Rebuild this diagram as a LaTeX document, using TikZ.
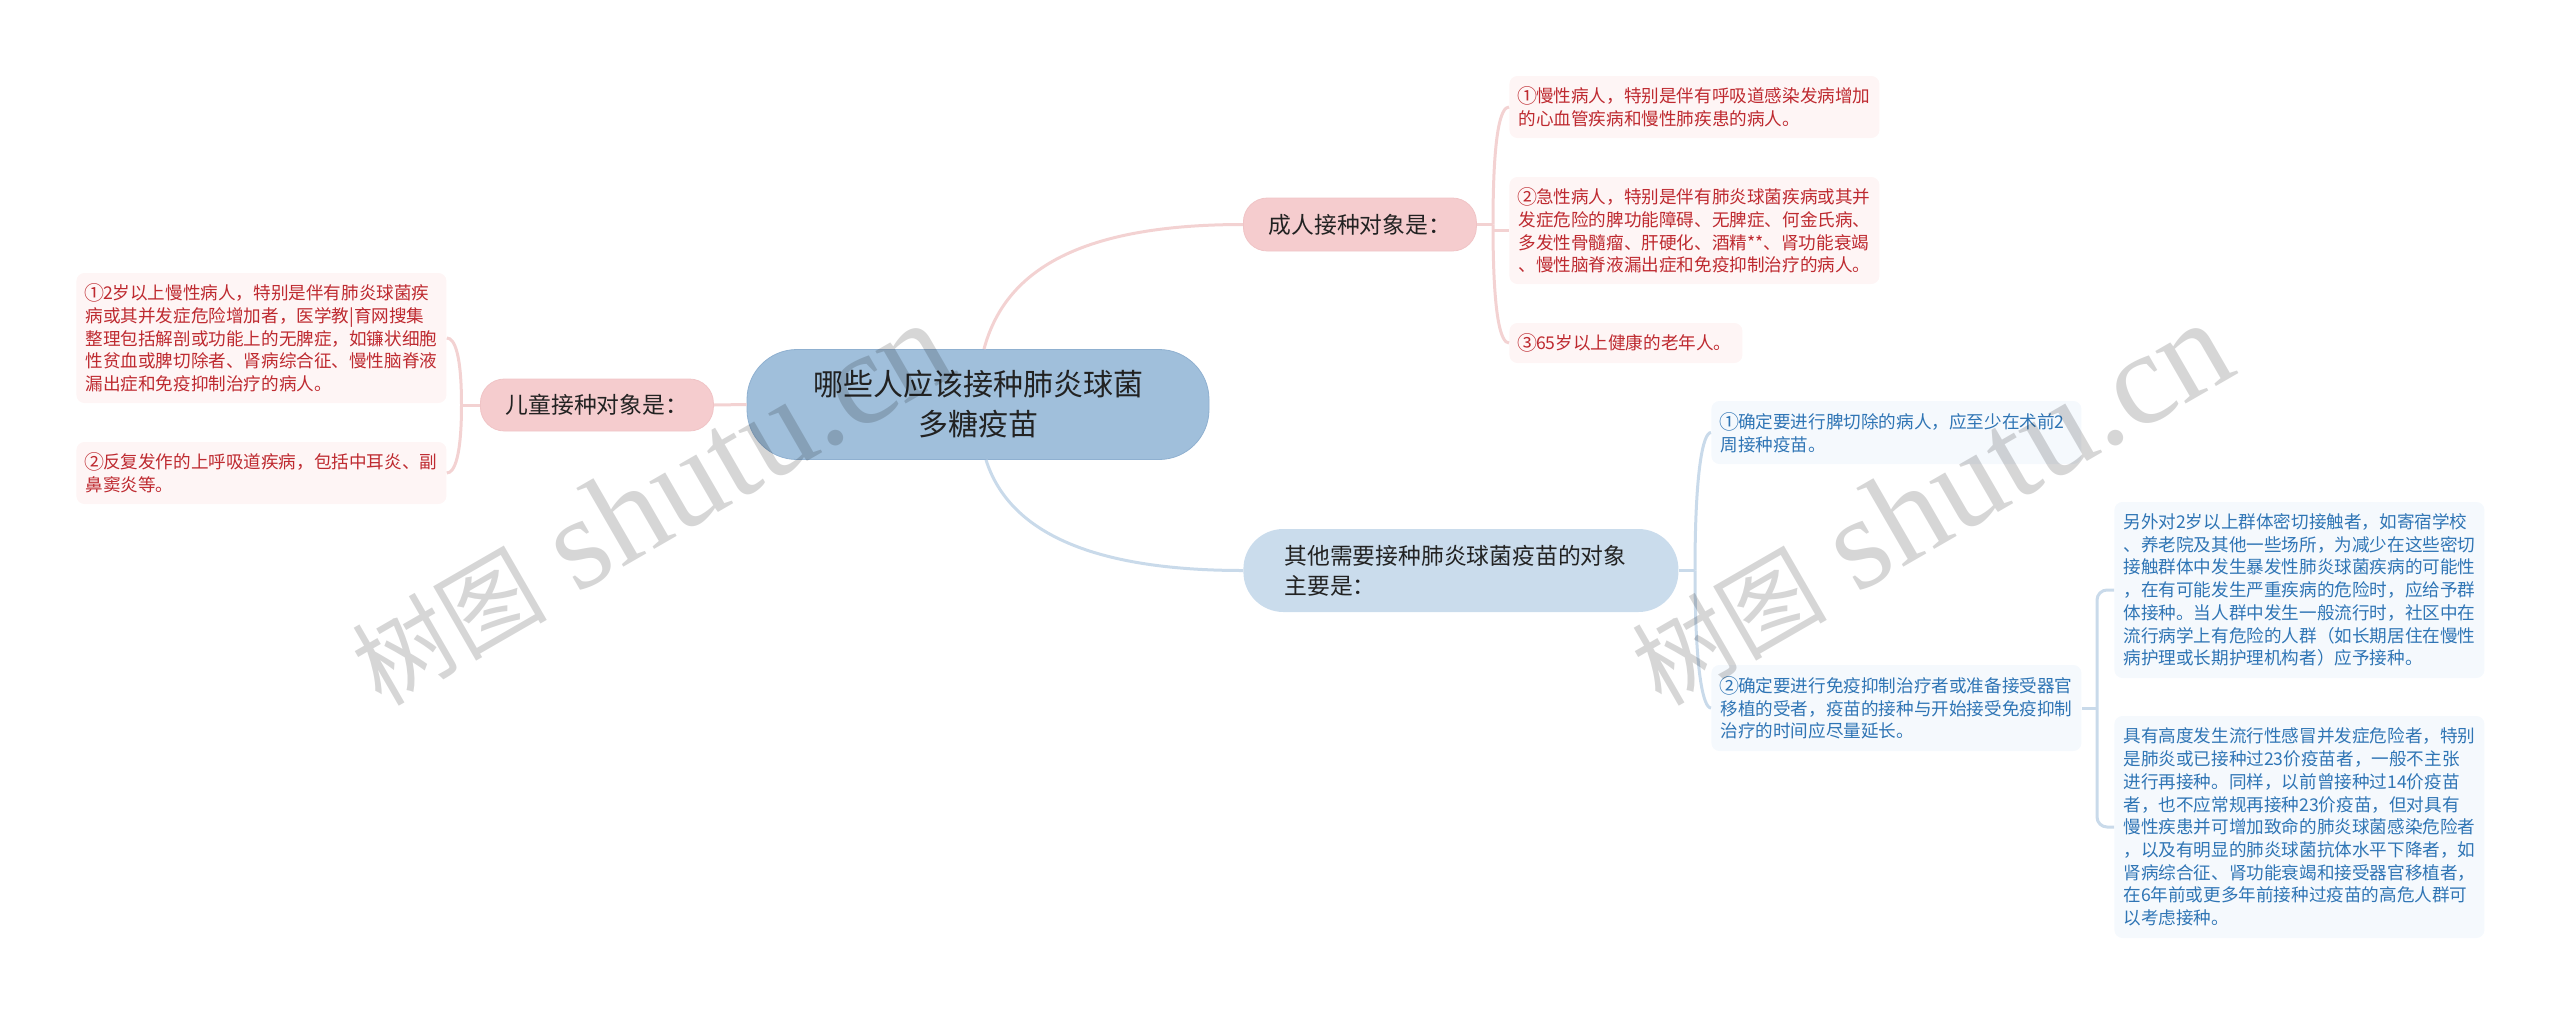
\documentclass[tikz,border=0pt]{standalone}
\usepackage{fontspec}
\setmainfont{Noto Sans CJK SC}
\newfontfamily\markfont{Liberation Serif}
\definecolor{rootfill}{HTML}{A0BFDB}
\definecolor{rootedge}{HTML}{8FB0D0}
\definecolor{pinkfill}{HTML}{F5CCCE}
\definecolor{pinkedge}{HTML}{F0C4C6}
\definecolor{pinkline}{HTML}{F3D2D2}
\definecolor{pinkleaf}{HTML}{FEF5F5}
\definecolor{pinktext}{HTML}{BE2A30}
\definecolor{bluefill}{HTML}{CADCEC}
\definecolor{blueline}{HTML}{C9DAEA}
\definecolor{blueleaf}{HTML}{F5F9FD}
\definecolor{bluetext}{HTML}{2F75B5}
\definecolor{darktext}{HTML}{222222}
\newcommand\looselines{\lineskiplimit-10pt\relax}
\newcommand\leadmark[1]{\makebox[8.8pt][c]{\raisebox{-.5pt}{\fontsize{10}{11}\selectfont #1}}}
\newcommand\marktext{{\fontsize{49}{57}\selectfont 树图}\hspace{15pt}{\fontsize{66}{57}\selectfont\markfont shutu.cn}}
\tikzset{
  leafbox/.style={anchor=west,rounded corners=4pt,inner xsep=4.5pt,inner ysep=0pt,
    text width=176pt,align=left,font=\fontsize{8.8}{11.35}\selectfont\looselines},
  pinkleafbox/.style={leafbox,fill=pinkleaf,text=pinktext},
  blueleafbox/.style={leafbox,fill=blueleaf,text=bluetext},
  midbox/.style={anchor=west,inner sep=0pt,text=darktext,
    font=\fontsize{11.4}{15}\selectfont\looselines},
  pinklink/.style={draw=pinkline,line width=1.5pt},
  bluelink/.style={draw=blueline,line width=1.5pt},
  markbox/.style={anchor=base,rotate=30,text=black,text opacity=.16}
}
\begin{document}
\begin{tikzpicture}[x=0.5pt,y=-0.5pt]
\useasboundingbox (0,0) rectangle (2560,1013);

\coordinate (childfork) at (461.5,405);
\coordinate (adultfork) at (1493,224.5);
\coordinate (otherfork) at (1695,570.5);
\coordinate (secondfork) at (2097,708);

\node[draw=rootedge,fill=rootfill,rounded corners=25pt,minimum width=231pt,minimum height=55pt,
  inner sep=0pt,align=center,text=darktext,font=\fontsize{15}{20}\selectfont\looselines]
  (root) at (978,404.5) {哪些人应该接种肺炎球菌\\多糖疫苗};

\node[midbox,draw=pinkedge,fill=pinkfill,rounded corners=12pt,minimum width=116.5pt,minimum height=26pt]
  (child) at (480,405) {儿童接种对象是：};
\node[midbox,draw=pinkedge,fill=pinkfill,rounded corners=12pt,minimum width=116.5pt,minimum height=26.5pt]
  (adult) at (1243,224.5) {成人接种对象是：};
\node[midbox,fill=bluefill,rounded corners=20pt,minimum height=41.5pt,inner xsep=20.5pt,text width=176.5pt,align=left]
  (other) at (1243,570.5) {其他需要接种肺炎球菌疫苗的对象\\主要是：};

\node[pinkleafbox,minimum height=31pt] (adulta) at (1509,107)
  {\leadmark{①}慢性病人，特别是伴有呼吸道感染发病增加\\的心血管疾病和慢性肺疾患的病人。};
\node[pinkleafbox,minimum height=53.5pt] (adultb) at (1509,230.5)
  {\leadmark{②}急性病人，特别是伴有肺炎球菌疾病或其并\\发症危险的脾功能障碍、无脾症、何金氏病、\\多发性骨髓瘤、肝硬化、酒精**、肾功能衰竭\\、慢性脑脊液漏出症和免疫抑制治疗的病人。};
\node[pinkleafbox,minimum height=20pt,text width=107.5pt] (adultc) at (1509,343)
  {\leadmark{③}65岁以上健康的老年人。};

\node[pinkleafbox,minimum height=65pt] (childa) at (76,338)
  {\leadmark{①}2岁以上慢性病人，特别是伴有肺炎球菌疾\\病或其并发症危险增加者，医学教|育网搜集\\整理包括解剖或功能上的无脾症，如镰状细胞\\性贫血或脾切除者、肾病综合征、慢性脑脊液\\漏出症和免疫抑制治疗的病人。};
\node[pinkleafbox,minimum height=31pt] (childb) at (76,473)
  {\leadmark{②}反复发作的上呼吸道疾病，包括中耳炎、副\\鼻窦炎等。};

\node[blueleafbox,minimum height=31.5pt] (othera) at (1711,432.5)
  {\leadmark{①}确定要进行脾切除的病人，应至少在术前2\\周接种疫苗。};
\node[blueleafbox,minimum height=43pt] (otherb) at (1711,708)
  {\leadmark{②}确定要进行免疫抑制治疗者或准备接受器官\\移植的受者，疫苗的接种与开始接受免疫抑制\\治疗的时间应尽量延长。};

\node[blueleafbox,minimum height=88pt] (seconda) at (2114,590)
  {另外对2岁以上群体密切接触者，如寄宿学校\\、养老院及其他一些场所，为减少在这些密切\\接触群体中发生暴发性肺炎球菌疾病的可能性\\，在有可能发生严重疾病的危险时，应给予群\\体接种。当人群中发生一般流行时，社区中在\\流行病学上有危险的人群（如长期居住在慢性\\病护理或长期护理机构者）应予接种。};
\node[blueleafbox,minimum height=111pt] (secondb) at (2114,827)
  {具有高度发生流行性感冒并发症危险者，特别\\是肺炎或已接种过23价疫苗者，一般不主张\\进行再接种。同样，以前曾接种过14价疫苗\\者，也不应常规再接种23价疫苗，但对具有\\慢性疾患并可增加致命的肺炎球菌感染危险者\\，以及有明显的肺炎球菌抗体水平下降者，如\\肾病综合征、肾功能衰竭和接受器官移植者，\\在6年前或更多年前接种过疫苗的高危人群可\\以考虑接种。};

\draw[pinklink] (root.west) -- (child.east);
\draw[pinklink] ([xshift=3pt]root.north) .. controls +(21,-79) and +(-163,0) .. (adult.west);
\draw[bluelink] ([xshift=4pt]root.south) .. controls +(21,66) and +(-163,0) .. (other.west);

\draw[pinklink] (child.west) -- (childfork);
\draw[pinklink] (childfork) .. controls +(0,-50) and +(8,0) .. (childa.east);
\draw[pinklink] (childfork) .. controls +(0,50) and +(8,0) .. (childb.east);

\draw[pinklink] (adult.east) -- (adultfork);
\draw[pinklink] (adultfork) .. controls +(0,-94) and +(-8,0) .. (adulta.west);
\draw[pinklink] (adultfork |- adultb.west) -- (adultb.west);
\draw[pinklink] (adultfork) .. controls +(0,94) and +(-8,0) .. (adultc.west);

\draw[bluelink] (other.east) -- (otherfork);
\draw[bluelink] (otherfork) .. controls +(0,-100) and +(-8,0) .. (othera.west);
\draw[bluelink] (otherfork) .. controls +(0,100) and +(-8,0) .. (otherb.west);

\draw[bluelink] (otherb.east) -- (secondfork);
\draw[bluelink,rounded corners=5pt] (secondfork) |- (seconda.west);
\draw[bluelink,rounded corners=5pt] (secondfork) |- (secondb.west);

\node[markbox] (marka) at (671,540) {\marktext};
\node[markbox] (markb) at (1951,540) {\marktext};
\end{tikzpicture}
\end{document}
